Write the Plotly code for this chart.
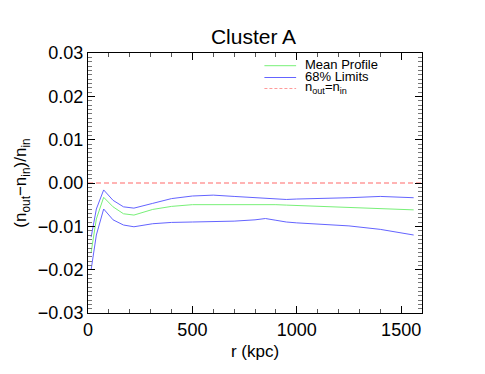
import plotly.graph_objects as go

# radius in kpc
r = [15, 40, 75, 120, 170, 220, 310, 400, 500, 600, 700, 800, 850, 900, 950,
     1000, 1100, 1250, 1400, 1560]
mean_profile = [-0.016, -0.0083, -0.0033, -0.0055, -0.0071, -0.0074, -0.0061, -0.0054,
                -0.0050, -0.0050, -0.0050, -0.0049, -0.0049, -0.0050, -0.0051,
                -0.0052, -0.0054, -0.0057, -0.0060, -0.0062]
upper_68 = [-0.0125, -0.0060, -0.0016, -0.0040, -0.0055, -0.0058, -0.0047, -0.0036,
            -0.0030, -0.0028, -0.0031, -0.0034, -0.0036, -0.0038, -0.0038,
            -0.0037, -0.0036, -0.0034, -0.0031, -0.0034]
lower_68 = [-0.020, -0.012, -0.0060, -0.0085, -0.0097, -0.0101, -0.0094, -0.0091,
            -0.0090, -0.0089, -0.0088, -0.0085, -0.0082, -0.0086, -0.0090,
            -0.0092, -0.0095, -0.0099, -0.0107, -0.0120]
equal_x = [0, 1600]
equal_y = [0, 0]

GREEN = "#78f078"
BLUE = "#6464ff"
RED = "#ff9a9a"
FONT = "Liberation Sans, Arial, sans-serif"

# page has an 8px body margin, so the figure starts at (8, 8)
PAGE = 8

fig = go.Figure()
fig.add_trace(go.Scatter(x=equal_x, y=equal_y, mode="lines",
                         line=dict(color=RED, width=1.5, dash="5px,3px")))
fig.add_trace(go.Scatter(x=r, y=upper_68, mode="lines", line=dict(color=BLUE, width=1)))
fig.add_trace(go.Scatter(x=r, y=lower_68, mode="lines", line=dict(color=BLUE, width=1)))
fig.add_trace(go.Scatter(x=r, y=mean_profile, mode="lines", line=dict(color=GREEN, width=1)))

# hand-made legend (tighter spacing than plotly's own)
legend = [("Mean Profile", GREEN, "solid", 65.7),
          ("68% Limits", BLUE, "solid", 77.5),
          ("n<sub>out</sub>=n<sub>in</sub>", RED, "3px,2px", 88.5)]
for text, col, dash, ypx in legend:
    yp = 1 - (ypx - 53) / 260
    x0 = (263 - 85) / 337
    x1 = (295 - 85) / 337
    fig.add_shape(type="line", xref="paper", yref="paper", x0=x0, x1=x1, y0=yp, y1=yp,
                  line=dict(color=col, width=1, dash=dash))
    fig.add_annotation(xref="paper", yref="paper", x=(302 - 85) / 337, y=yp + 0.004,
                       text=text, showarrow=False, xanchor="left", yanchor="middle",
                       font=dict(size=13, color="black", family=FONT))

axis_common = dict(showline=True, linecolor="black", linewidth=1, mirror="allticks",
                   ticks="inside", ticklen=7, tickcolor="black", showgrid=False,
                   zeroline=False, tickfont=dict(size=18, color="black", family=FONT))

fig.update_xaxes(range=[0, 1600], tickvals=[0, 500, 1000, 1500],
                 minor=dict(dtick=100, ticks="inside", ticklen=4, tickcolor="#555"),
                 title=dict(text="r (kpc)", font=dict(size=17, color="black", family=FONT),
                            standoff=6),
                 **axis_common)
fig.update_yaxes(range=[-0.03, 0.03], tickvals=[-0.03, -0.02, -0.01, 0, 0.01, 0.02, 0.03],
                 ticktext=["\u22120.03", "\u22120.02", "\u22120.01", "0.00", "0.01", "0.02", "0.03"],
                 minor=dict(dtick=0.001, ticks="inside", ticklen=4, tickcolor="#777"),
                 title=dict(text="(n<sub>out</sub>\u2212n<sub>in</sub>)/n<sub>in</sub>",
                            font=dict(size=17, color="black", family=FONT), standoff=6),
                 **axis_common)

fig.update_layout(
    width=485, height=374,
    margin=dict(l=85 - PAGE, r=63 + PAGE, t=53 - PAGE, b=61 + PAGE),
    paper_bgcolor="white", plot_bgcolor="white",
    showlegend=False,
    title=dict(text="Cluster A", x=((85 + 422) / 2 - PAGE) / 485, xanchor="center",
               y=1 - (37 - PAGE) / 374, yanchor="middle",
               font=dict(size=21, color="black", family=FONT)),
)

fig.write_html("out.html")
